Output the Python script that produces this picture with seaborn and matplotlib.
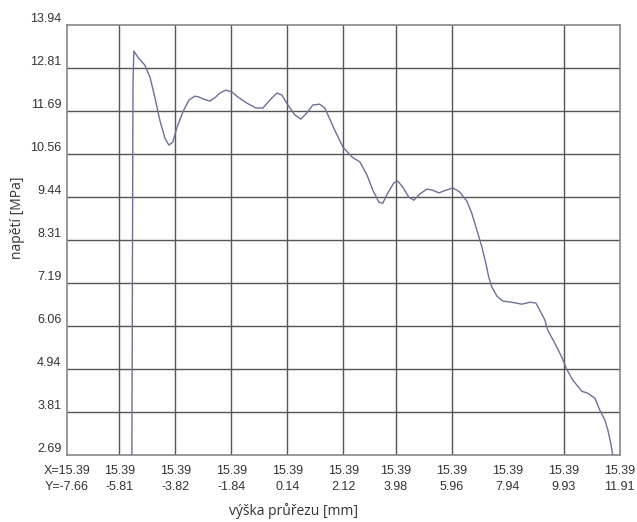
# -*- coding: utf-8 -*-
"""
Průběh napětí po výšce průřezu
"""

import matplotlib
matplotlib.use('Agg')
import matplotlib.pyplot as plt
import pandas as pd
import seaborn as sns

# výška průřezu [mm]
vyska = [-5.36, -5.32, -5.29, -5.15, -4.90, -4.72, -4.55, -4.37, -4.19, -4.05,
         -3.91, -3.77, -3.56, -3.34, -3.13, -2.99, -2.81, -2.60, -2.39, -2.25,
         -2.03, -1.82, -1.61, -1.29, -0.97, -0.72, -0.51, -0.23, -0.05, 0.16,
         0.41, 0.62, 0.83, 1.05, 1.29, 1.47, 1.82, 2.11, 2.43, 2.71,
         2.96, 3.17, 3.38, 3.52, 3.70, 3.91, 4.05, 4.23, 4.44, 4.62,
         4.83, 5.08, 5.29, 5.51, 5.75, 6.00, 6.25, 6.50, 6.67, 6.85,
         7.03, 7.17, 7.27, 7.38, 7.56, 7.77, 8.09, 8.44, 8.73, 8.94,
         9.08, 9.26, 9.36, 9.61, 9.86, 10.03, 10.25, 10.57, 10.78, 11.03,
         11.20, 11.38, 11.49, 11.59, 11.66]

# napětí [MPa]
napeti = [2.69, 12.42, 13.26, 13.10, 12.89, 12.58, 12.06, 11.45, 10.98, 10.80,
          10.88, 11.25, 11.66, 11.98, 12.08, 12.06, 12.00, 11.95, 12.06, 12.16,
          12.24, 12.19, 12.06, 11.90, 11.77, 11.77, 11.95, 12.16, 12.11, 11.85,
          11.59, 11.48, 11.64, 11.85, 11.87, 11.77, 11.19, 10.75, 10.49, 10.36,
          10.02, 9.62, 9.31, 9.28, 9.55, 9.81, 9.86, 9.70, 9.44, 9.36,
          9.52, 9.65, 9.62, 9.55, 9.62, 9.68, 9.57, 9.33, 9.02, 8.58,
          8.13, 7.71, 7.35, 7.09, 6.85, 6.72, 6.69, 6.64, 6.69, 6.67,
          6.48, 6.22, 5.96, 5.62, 5.25, 4.94, 4.65, 4.36, 4.31, 4.18,
          3.87, 3.61, 3.34, 3.00, 2.69]

# osa X: souřadnice Y řezu, osa Y: úrovně napětí
x_ticks = [-7.66, -5.81, -3.82, -1.84, 0.14, 2.12, 3.98, 5.96, 7.94, 9.93, 11.91]
x_popisky = ['X=15.39\nY=-7.66'] + ['15.39\n' + f'{v:.2f}' for v in x_ticks[1:]]
y_ticks = [2.69, 3.81, 4.94, 6.06, 7.19, 8.31, 9.44, 10.56, 11.69, 12.81, 13.94]
# svislá čára u 7.94 v originálu chybí
x_mrizka = [-5.81, -3.82, -1.84, 0.14, 2.12, 3.98, 5.96, 9.93]

df = pd.DataFrame({'vyska': vyska, 'napeti': napeti})

sns.set_theme(style='white')
plt.rcParams['font.family'] = ['Liberation Sans', 'DejaVu Sans']

fig = plt.figure(figsize=(6.37, 5.22), dpi=100)
ax = fig.add_axes([0.105, 0.128, 0.868, 0.824])

# mřížka
for yv in y_ticks[1:-1]:
    ax.axhline(yv, color='#555555', lw=1.0, zorder=1)
for xv in x_mrizka:
    ax.axvline(xv, color='#555555', lw=1.0, zorder=1)

sns.lineplot(data=df, x='vyska', y='napeti', sort=False, estimator=None,
             color='#6d7099', lw=1.0, ax=ax, zorder=3)

ax.set_xlim(x_ticks[0], x_ticks[-1])
ax.set_ylim(y_ticks[0], y_ticks[-1])
ax.set_xticks(x_ticks)
ax.set_xticklabels(x_popisky, fontsize=9, color='#333333', linespacing=1.4)
ax.set_yticks(y_ticks)
ax.set_yticklabels([f'{v:.2f}' for v in y_ticks], fontsize=9, color='#333333')
for t in ax.get_yticklabels():
    t.set_verticalalignment('bottom')
ax.tick_params(axis='both', length=0)
ax.tick_params(axis='x', pad=7)
ax.tick_params(axis='y', pad=4)

for s in ax.spines.values():
    s.set_color('#888888')
    s.set_linewidth(1.2)

ax.set_xlabel('výška průřezu [mm]', fontsize=10, color='#333333',
              family=['Open Sans', 'DejaVu Sans'])
ax.xaxis.set_label_coords(0.41, -0.112)
ax.set_ylabel('napětí [MPa]', fontsize=10, color='#333333',
              family=['Open Sans', 'DejaVu Sans'])
ax.yaxis.set_label_coords(-0.089, 0.553)
ax.yaxis.label.set_verticalalignment('center')

fig.savefig('out.png', dpi=100)
